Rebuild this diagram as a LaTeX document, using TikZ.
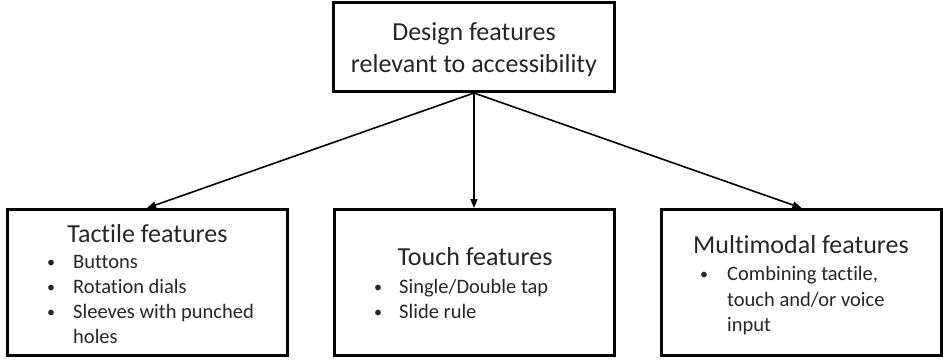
\documentclass[tikz,border=0pt]{standalone}
\usepackage{fontspec}
\setmainfont{Carlito}[Ligatures=NoCommon]
\usetikzlibrary{arrows.meta}
\begin{document}
\begin{tikzpicture}[x=1pt,y=-1pt,
  box/.style={draw,line width=3pt,minimum width=280pt,minimum height=146pt,inner sep=0pt},
  topbox/.style={draw,line width=3pt,minimum width=281pt,minimum height=89pt,inner sep=0pt},
  head/.style={anchor=base,inner sep=0pt,text=black!85,font=\fontsize{26}{31}\selectfont},
  item/.style={anchor=base west,inner sep=0pt,text=black!85,font=\fontsize{20.5}{24}\selectfont},
  dot/.style={anchor=base west,inner sep=0pt,text=black!85,font=\fontsize{16}{20}\selectfont},
  link/.style={line width=1.6pt,-{Triangle[length=9pt,width=7pt]}}]
\useasboundingbox (0,0) rectangle (943,359);
% boxes
\node[topbox] (top) at (474,47) {};
\node[box] (tact) at (147,282.5) {};
\node[box] (touch) at (474,282.5) {};
\node[box] (multi) at (801.5,282.5) {};
% top title
\node[head] (t1) at (474,40) {Design features};
\node[head] (t2) at (474,72) {relevant to accessibility};
% tactile
\node[head] (h1) at (147.5,242) {Tactile features};
\node[dot] (b1a) at (47,267) {•};
\node[item] (i1a) at (73,268) {Buttons};
\node[dot] (b1b) at (47,292) {•};
\node[item] (i1b) at (73,293) {Rotation dials};
\node[dot] (b1c) at (47,317) {•};
\node[item] (i1c) at (73,318) {Sleeves with punched};
\node[item] (i1d) at (73,343) {holes};
% touch
\node[head] (h2) at (475,265) {Touch features};
\node[dot] (b2a) at (374,292) {•};
\node[item] (i2a) at (399,293) {Single/Double tap};
\node[dot] (b2b) at (374,317) {•};
\node[item] (i2b) at (399,318) {Slide rule};
% multimodal
\node[head] (h3) at (801,253) {Multimodal features};
\node[dot] (b3a) at (700,279) {•};
\node[item] (i3a) at (727,280) {Combining tactile,};
\node[item] (i3b) at (727,306) {touch and/or voice};
\node[item] (i3c) at (727,331) {input};
% connectors
\draw[link] (top.south) -- (tact.north);
\draw[link] (top.south) -- (touch.north);
\draw[link] (top.south) -- (multi.north);
\end{tikzpicture}
\end{document}
